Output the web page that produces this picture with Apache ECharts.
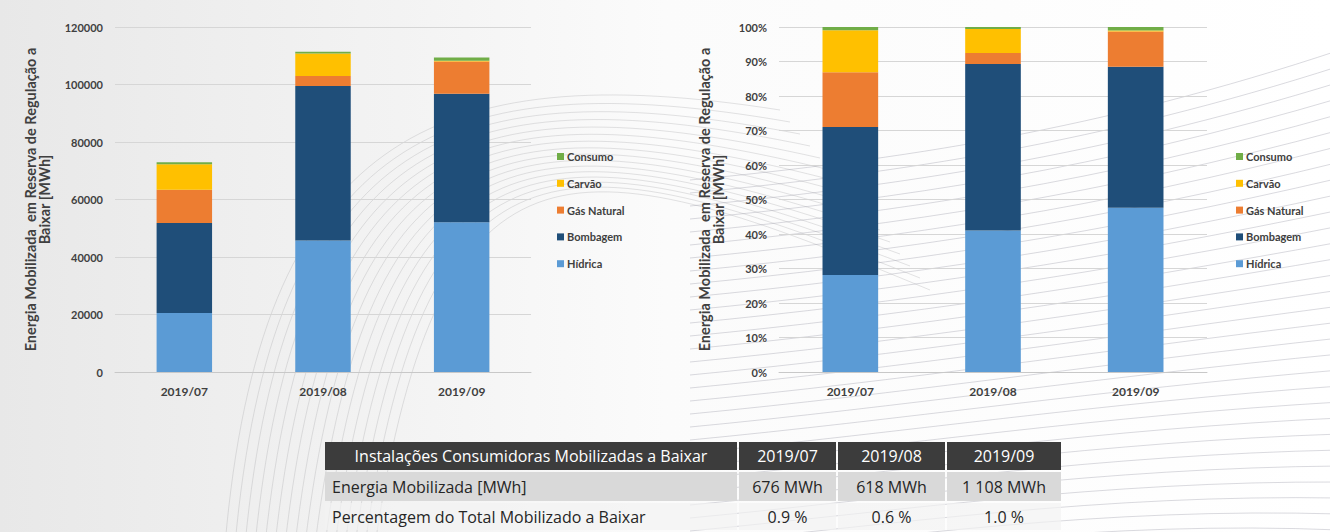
<!DOCTYPE html>
<html>
<head>
<meta charset="utf-8">
<script src="https://cdn.jsdelivr.net/npm/echarts@6/dist/echarts.min.js"></script>
<style>
  html, body { margin: 0; padding: 0; background: #ffffff; }
  #chart { width: 1330px; height: 532px; }
</style>
</head>
<body>
<div id="chart"></div>
<script>
// Energia mobilizada em reserva de regulação a baixar, por tecnologia (MWh)
const months     = ['2019/07', '2019/08', '2019/09'];
const hidrica    = [20500, 45700, 52100];
const bombagem   = [31300, 53800, 44700];
const gasNatural = [11600,  3500, 11200];
const carvao     = [ 8900,  7800,   300];
const consumo    = [  676,   618,  1108];

const seriesNames = ['Hídrica', 'Bombagem', 'Gás Natural', 'Carvão', 'Consumo'];
const legendOrder = ['Consumo', 'Carvão', 'Gás Natural', 'Bombagem', 'Hídrica'];

// value axis ranges
const absMax = 120000, absStep = 20000;
const pctMax = 100, pctStep = 10;

// summary table text
const tableTitle = 'Instalações Consumidoras Mobilizadas a Baixar';
const rowLabels  = ['Energia Mobilizada [MWh]', 'Percentagem do Total Mobilizado a Baixar'];

const yTitle = 'Energia Mobilizada  em Reserva de Regulação a\nBaixar [MWh]';

const palette = {
  'Hídrica': '#5b9bd5',
  'Bombagem': '#1f4e79',
  'Gás Natural': '#ed7d31',
  'Carvão': '#ffc000',
  'Consumo': '#70ad47'
};

const values = [hidrica, bombagem, gasNatural, carvao, consumo];
const totals = months.map((_, i) => values.reduce((s, arr) => s + arr[i], 0));
const shares = values.map(arr => arr.map((v, i) => v / totals[i] * 100));

const FONT = 'Lato, "Open Sans", sans-serif';
const TFONT = '"Open Sans", Lato, sans-serif';
const txt = '#404040';

function fmtThousands(v) {
  return String(v).replace(/\B(?=(\d{3})+(?!\d))/g, ' ');
}

// ---------- decorative background ----------
const bg = [];
bg.push({
  type: 'rect', z: -20, silent: true,
  shape: { x: 0, y: 0, width: 1330, height: 532 },
  style: {
    fill: new echarts.graphic.LinearGradient(0, 0, 1, 0, [
      { offset: 0, color: '#e8e8e8' },
      { offset: 0.3, color: '#f3f3f3' },
      { offset: 0.5, color: '#fbfbfb' },
      { offset: 1, color: '#ffffff' }
    ])
  }
});
// sweeping arcs behind the left chart
for (let i = 0; i < 16; i++) {
  bg.push({
    type: 'bezierCurve', z: -15, silent: true,
    shape: {
      x1: 225 + i * 10, y1: 545,
      cpx1: 260 + i * 12, cpy1: 140 - i * 2,
      cpx2: 430 + i * 10, cpy2: 55 + i * 6,
      x2: 780 + i * 10, y2: 110 + i * 12
    },
    style: { stroke: 'rgba(170,170,175,0.42)', lineWidth: 0.8, fill: null }
  });
}
// wave lines on the right side
for (let i = 0; i < 32; i++) {
  const y0 = 110 + i * 13;
  bg.push({
    type: 'bezierCurve', z: -15, silent: true,
    shape: {
      x1: 690, y1: y0 + 70,
      cpx1: 900, cpy1: y0 + 50,
      cpx2: 1100, cpy2: y0 + 20,
      x2: 1340, y2: y0 - 60 + i * 3
    },
    style: { stroke: 'rgba(150,150,165,0.4)', lineWidth: 0.9, fill: null }
  });
}

// ---------- summary table ----------
const colX = [324, 738, 837, 946, 1062];
const rowY = [[442, 470], [472, 501], [503, 530]];
const tbl = [];
function cell(x0, x1, y0, y1, fill) {
  tbl.push({
    type: 'rect', z: 20, silent: true,
    shape: { x: x0 + 1, y: y0, width: x1 - x0 - 2, height: y1 - y0 },
    style: { fill: fill }
  });
}
function label(x, y, text, align, color) {
  tbl.push({
    type: 'text', z: 21, silent: true,
    x: x, y: y,
    style: {
      text: text, fill: color, font: '16px ' + TFONT,
      align: align, verticalAlign: 'middle'
    }
  });
}
for (let c = 0; c < 4; c++) {
  cell(colX[c], colX[c + 1], rowY[0][0], rowY[0][1], '#3c3c3c');
  cell(colX[c], colX[c + 1], rowY[1][0], rowY[1][1], '#d9d9d9');
  cell(colX[c], colX[c + 1], rowY[2][0], rowY[2][1], 'rgba(242,242,242,0.7)');
}
const mid = r => (rowY[r][0] + rowY[r][1]) / 2;
label((colX[0] + colX[1]) / 2, mid(0), tableTitle, 'center', '#ffffff');
label(colX[0] + 8, mid(1), rowLabels[0], 'left', '#262626');
label(colX[0] + 8, mid(2), rowLabels[1], 'left', '#262626');
months.forEach((m, i) => {
  const cx = (colX[i + 1] + colX[i + 2]) / 2;
  label(cx, mid(0), m, 'center', '#ffffff');
  label(cx, mid(1), fmtThousands(consumo[i]) + ' MWh', 'center', '#262626');
  label(cx, mid(2), (consumo[i] / totals[i] * 100).toFixed(1) + ' %', 'center', '#262626');
});

// ---------- charts ----------
function makeYAxis(gridIndex, max, step, fmt, gap) {
  return {
    type: 'value', gridIndex: gridIndex, min: 0, max: max, interval: step,
    name: yTitle, nameLocation: 'middle', nameGap: gap, nameRotate: 90,
    nameTextStyle: { color: txt, fontFamily: FONT, fontWeight: 'bold', fontSize: 14.5, lineHeight: 13.5 },
    axisLine: { show: false }, axisTick: { show: false },
    axisLabel: { color: txt, fontFamily: FONT, fontWeight: 'bold', fontSize: 11, margin: 12, formatter: fmt },
    splitLine: { lineStyle: { color: '#d6d6d6', width: 1 } }
  };
}
function makeXAxis(gridIndex) {
  return {
    type: 'category', gridIndex: gridIndex, data: months,
    axisLine: { lineStyle: { color: '#c8c8c8' } }, axisTick: { show: false },
    axisLabel: { color: txt, fontFamily: FONT, fontWeight: 'bold', fontSize: 12, margin: 13 }
  };
}
function makeLegend(left) {
  return {
    data: legendOrder, orient: 'vertical', left: left, top: 146,
    itemWidth: 7, itemHeight: 7, itemGap: 15.8, icon: 'rect',
    textStyle: { color: txt, fontFamily: FONT, fontWeight: 'bold', fontSize: 11, padding: [0, 0, 0, -2] },
    selectedMode: false
  };
}

const series = [];
seriesNames.forEach((name, k) => {
  series.push({
    name: name, type: 'bar', stack: 'abs', xAxisIndex: 0, yAxisIndex: 0,
    barWidth: '40%', data: values[k], itemStyle: { color: palette[name] }
  });
  series.push({
    name: name, type: 'bar', stack: 'pct', xAxisIndex: 1, yAxisIndex: 1,
    barWidth: '39%', data: shares[k], itemStyle: { color: palette[name] }
  });
});

const chart = echarts.init(document.getElementById('chart'), null, { renderer: 'svg' });
chart.setOption({
  animation: false,
  textStyle: { fontFamily: FONT },
  grid: [
    { left: 115, top: 27, width: 416, height: 345 },
    { left: 779, top: 27, width: 428, height: 345 }
  ],
  xAxis: [makeXAxis(0), makeXAxis(1)],
  yAxis: [
    makeYAxis(0, absMax, absStep, v => String(v), 64),
    makeYAxis(1, pctMax, pctStep, v => v + '%', 54)
  ],
  legend: [makeLegend(552), makeLegend(1231)],
  series: series,
  graphic: bg.concat(tbl)
});
</script>
</body>
</html>
